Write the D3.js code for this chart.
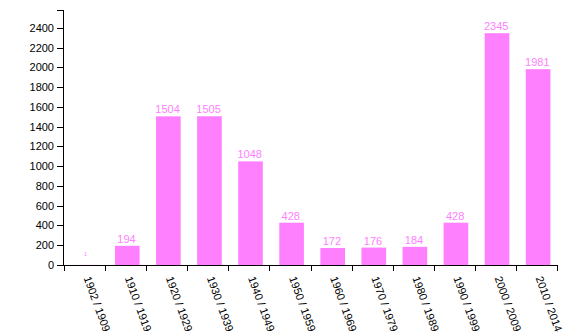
<!DOCTYPE html>
<html>
<head>
<meta charset="utf-8">
<script src="https://cdn.jsdelivr.net/npm/d3@7"></script>
<style>
  body { margin: 0; background: #fff; }
  svg { display: block; font-family: "Liberation Sans", Arial, sans-serif; }
  .axis path, .axis line { stroke: #000; fill: none; shape-rendering: crispEdges; }
  .axis text { font-size: 11px; fill: #000; }
</style>
</head>
<body>
<svg id="chart" width="582" height="336"></svg>
<script>
var decades = ['1902 / 1909', '1910 / 1919', '1920 / 1929', '1930 / 1939', '1940 / 1949', '1950 / 1959',
               '1960 / 1969', '1970 / 1979', '1980 / 1989', '1990 / 1999', '2000 / 2009', '2010 / 2014'];
var counts = [1, 194, 1504, 1505, 1048, 428, 172, 176, 184, 428, 2345, 1981];
var yTicks = [0, 200, 400, 600, 800, 1000, 1200, 1400, 1600, 1800, 2000, 2200, 2400];

var barColor = '#ff80ff';
var svg = d3.select('#chart');

var x = d3.scaleBand()
    .domain(decades)
    .range([64, 557]);
// band edges, used only for the tick marks
var edges = d3.scaleLinear()
    .domain([0, decades.length])
    .range([64, 557]);
var y = d3.scaleLinear()
    .domain([0, d3.max(counts) * 1.1])
    .range([265, 10]);

var data = decades.map(function (d, i) {
    return { decade: d, count: counts[i] };
});

var step = x.step();

svg.selectAll('rect.bar')
    .data(data)
    .enter()
    .append('rect')
    .attr('class', 'bar')
    .attr('x', function (d) { return x(d.decade) + step * 0.24; })
    .attr('width', step * 0.6)
    .attr('y', function (d) { return y(d.count); })
    .attr('height', function (d) { return y(0) - y(d.count); })
    .attr('fill', barColor);

svg.selectAll('text.value')
    .data(data)
    .enter()
    .append('text')
    .attr('class', 'value')
    .attr('x', function (d) { return x(d.decade) + step * 0.52; })
    .attr('y', function (d) { return y(d.count) - 3; })
    .attr('dy', function (d) { return d.count < 10 ? '-1.2em' : 0; })
    .attr('text-anchor', 'middle')
    .attr('fill', barColor)
    .style('font-size', function (d) { return d.count < 10 ? '5px' : '11px'; })
    .text(function (d) { return d.count; });

// x axis: ticks on band boundaries
svg.append('g')
    .attr('class', 'axis')
    .attr('transform', 'translate(0,265)')
    .call(d3.axisBottom(edges).ticks(decades.length).tickFormat(''));

// x labels, rotated
var xl = svg.append('g')
    .attr('class', 'axis')
    .attr('transform', 'translate(0,265)')
    .call(d3.axisBottom(x).tickSize(0).tickPadding(0));
xl.select('.domain').remove();
xl.selectAll('text')
    .attr('y', 0)
    .attr('dy', 0)
    .attr('text-anchor', 'start')
    .attr('transform', 'translate(-1,13) rotate(70)');

svg.append('g')
    .attr('class', 'axis')
    .attr('transform', 'translate(63,0)')
    .call(d3.axisLeft(y).tickValues(yTicks).tickFormat(d3.format('d')));
</script>
</body>
</html>
